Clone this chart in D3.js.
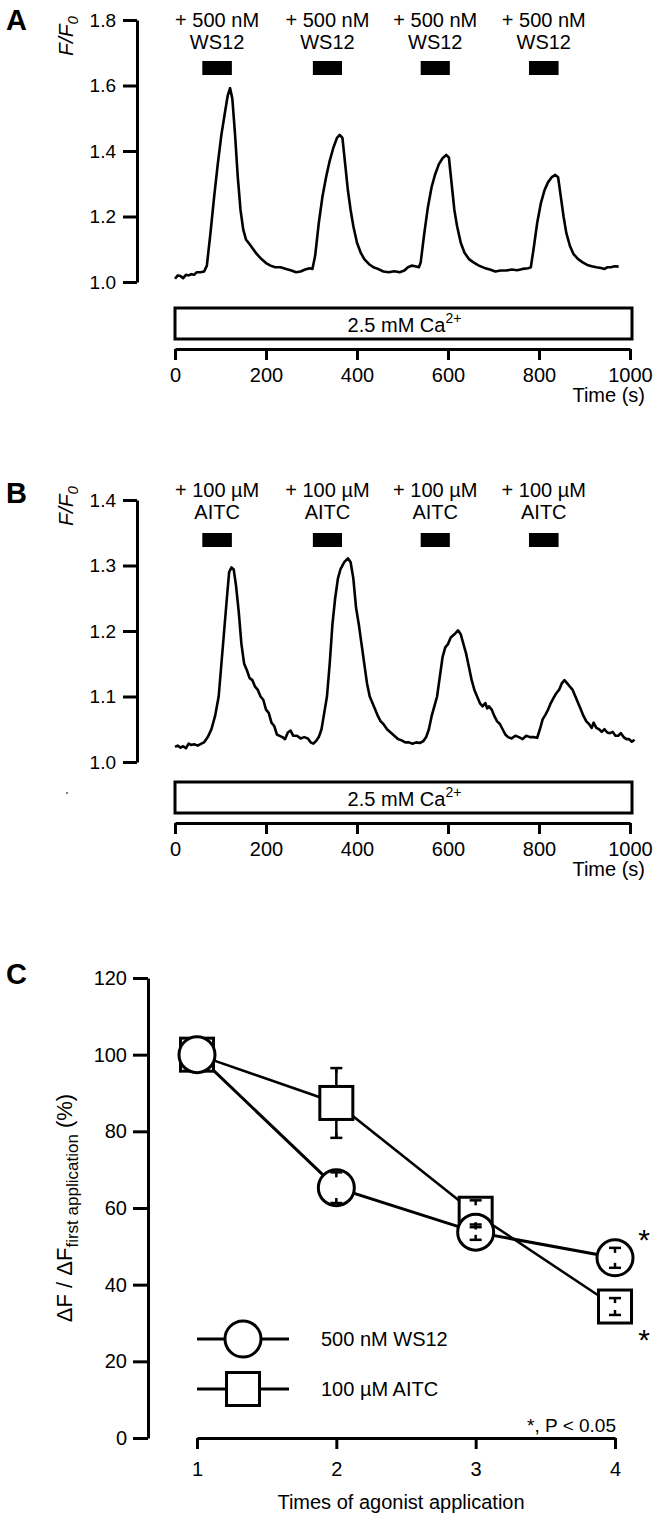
<!DOCTYPE html>
<html>
<head>
<meta charset="utf-8">
<script src="https://cdn.jsdelivr.net/npm/d3@7"></script>
<style>
  html, body { margin: 0; padding: 0; background: #fff; }
  svg { display: block; }
  text { font-family: "Liberation Sans", Arial, Helvetica, sans-serif; fill: #000; }
</style>
</head>
<body>
<script>
// ---------------- DATA ----------------
// Panel A: WS12 trace (time s, F/F0)
const timeA = [0,6,12,18,24,30,36,42,48,56,64,70,78,86,94,102,110,116,121,126,132,138,144,150,156,164,172,180,190,200,210,220,232,244,256,266,276,286,296,302,308,316,324,332,340,348,356,362,368,374,380,386,392,400,408,416,426,436,446,458,470,482,494,504,512,520,528,536,540,548,556,564,572,580,588,596,602,608,614,620,628,636,646,656,668,680,692,704,716,728,740,752,764,776,782,788,796,804,812,820,828,836,842,848,854,860,868,876,886,896,906,916,926,936,944,950,958,966,975];
const ratioA = [1.010,1.020,1.018,1.012,1.022,1.020,1.024,1.022,1.030,1.030,1.032,1.05,1.15,1.26,1.36,1.45,1.52,1.57,1.592,1.56,1.45,1.32,1.22,1.16,1.13,1.115,1.10,1.085,1.07,1.058,1.05,1.045,1.045,1.04,1.035,1.03,1.032,1.038,1.042,1.040,1.08,1.18,1.26,1.32,1.37,1.41,1.44,1.449,1.44,1.36,1.28,1.22,1.17,1.12,1.09,1.07,1.055,1.045,1.04,1.032,1.03,1.033,1.03,1.035,1.045,1.05,1.048,1.045,1.06,1.15,1.23,1.29,1.33,1.36,1.378,1.388,1.38,1.30,1.22,1.17,1.12,1.09,1.07,1.06,1.05,1.043,1.038,1.032,1.035,1.035,1.038,1.036,1.04,1.042,1.045,1.10,1.18,1.24,1.28,1.305,1.32,1.327,1.32,1.26,1.20,1.15,1.11,1.085,1.07,1.06,1.052,1.048,1.045,1.043,1.04,1.045,1.045,1.048,1.047];
const drugStartA = [60, 303, 540, 778];
const drugEndA = [125, 367, 604, 843];
const drugLine1A = "+ 500 nM";
const drugLine2A = "WS12";
const yTicksA = [1.0, 1.2, 1.4, 1.6, 1.8];

// Panel B: AITC trace
const timeB = [0,6,12,18,24,30,36,42,50,58,64,72,80,88,96,102,108,114,119,124,129,134,140,146,152,158,164,170,176,182,188,194,200,206,212,218,224,230,236,242,248,254,260,268,276,284,292,298,304,310,316,322,328,334,340,346,352,358,364,372,380,386,392,398,404,410,416,422,428,434,440,446,452,458,466,474,482,490,498,506,514,522,530,538,546,552,558,564,570,576,582,588,594,600,606,614,622,628,634,640,646,652,658,664,670,676,682,686,690,696,702,708,714,720,726,732,740,748,756,764,772,780,788,796,802,808,814,820,826,832,838,844,850,856,862,868,874,880,886,892,898,904,910,916,920,926,932,938,944,950,956,962,968,974,980,986,992,998,1004,1010];
const ratioB = [1.023,1.025,1.022,1.024,1.021,1.028,1.026,1.027,1.025,1.028,1.030,1.038,1.05,1.07,1.10,1.15,1.20,1.25,1.29,1.297,1.294,1.27,1.23,1.18,1.15,1.14,1.128,1.125,1.115,1.11,1.10,1.095,1.08,1.075,1.06,1.055,1.042,1.040,1.038,1.035,1.045,1.048,1.040,1.04,1.036,1.038,1.036,1.03,1.028,1.032,1.038,1.05,1.075,1.10,1.15,1.21,1.25,1.28,1.295,1.305,1.311,1.305,1.28,1.235,1.21,1.18,1.15,1.12,1.10,1.09,1.08,1.07,1.062,1.058,1.05,1.045,1.04,1.035,1.033,1.03,1.03,1.028,1.03,1.029,1.032,1.038,1.05,1.07,1.085,1.10,1.13,1.16,1.175,1.18,1.19,1.195,1.201,1.195,1.18,1.165,1.145,1.125,1.11,1.10,1.09,1.085,1.09,1.082,1.085,1.08,1.07,1.062,1.058,1.05,1.042,1.038,1.036,1.04,1.038,1.035,1.04,1.038,1.038,1.037,1.05,1.065,1.072,1.08,1.09,1.098,1.105,1.11,1.12,1.125,1.12,1.115,1.11,1.10,1.09,1.08,1.07,1.062,1.058,1.052,1.06,1.052,1.05,1.046,1.05,1.045,1.044,1.046,1.04,1.04,1.044,1.038,1.035,1.035,1.031,1.034];
const drugStartB = [60, 303, 540, 778];
const drugEndB = [125, 367, 604, 843];
const drugLine1B = "+ 100 µM";
const drugLine2B = "AITC";
const yTicksB = [1.0, 1.1, 1.2, 1.3, 1.4];

const timeTicks = [0, 200, 400, 600, 800, 1000];
const bathLabel = "2.5 mM Ca";
const bathSup = "2+";

// Panel C: normalised responses
const applications = [1, 2, 3, 4];
const ws12Mean = [100, 65.3, 53.7, 47.0];
const ws12Sem  = [0, 4.0, 2.0, 2.6];
const aitcMean = [100, 87.4, 58.5, 34.3];
const aitcSem  = [0, 9.1, 3.5, 2.2];
const yTicksC = [0, 20, 40, 60, 80, 100, 120];
const seriesNames = ["500 nM WS12", "100 µM AITC"];
const sigNote = "*, P < 0.05";

// ---------------- DRAWING ----------------
const W = 658, H = 1521;
const svg = d3.select("body").append("svg").attr("width", W).attr("height", H);
svg.append("rect").attr("width", W).attr("height", H).attr("fill", "#fff");

function styleAxis(g, fs) {
  g.selectAll("path.domain").attr("stroke", "#000").attr("stroke-width", 3);
  g.selectAll(".tick line").attr("stroke", "#000").attr("stroke-width", 3);
  g.selectAll(".tick text").attr("font-size", fs).attr("font-family", '"Liberation Sans", Arial, sans-serif').attr("fill", "#000");
}

function tracePanel(o) {
  const g = svg.append("g").attr("transform", `translate(0,${o.top})`);
  const x = d3.scaleLinear().domain([0, 1000]).range([175, 630]);
  const y = d3.scaleLinear().domain(o.yDomain).range([o.yBottom, o.yTop]);

  g.append("text").attr("x", 6).attr("y", o.letterY).attr("font-size", 29).attr("font-weight", "bold").text(o.letter);

  const yl = g.append("text").attr("transform", `translate(73,${o.yLabelY}) rotate(-90)`)
    .attr("text-anchor", "middle").attr("font-size", 21).attr("font-style", "italic");
  yl.append("tspan").text("F/F");
  yl.append("tspan").attr("font-size", 15).attr("dy", 5).text("0");

  const ya = g.append("g").attr("transform", "translate(137,0)")
    .call(d3.axisLeft(y).tickValues(o.yTicks).tickFormat(d3.format(".1f")).tickSize(14).tickSizeOuter(0).tickPadding(7));
  styleAxis(ya, 19);

  o.starts.forEach((s, i) => {
    const e = o.ends[i];
    g.append("rect").attr("x", x(s)).attr("y", o.barY).attr("width", x(e) - x(s)).attr("height", 14).attr("fill", "#000");
    const cx = (x(s) + x(e)) / 2;
    g.append("text").attr("x", cx).attr("y", 27).attr("text-anchor", "middle").attr("font-size", 20).text(o.l1);
    g.append("text").attr("x", cx).attr("y", 49).attr("text-anchor", "middle").attr("font-size", 20).text(o.l2);
  });

  const pts = o.t.map((t, i) => [t, o.v[i]]);
  g.append("path").datum(pts)
    .attr("d", d3.line().x(d => x(d[0])).y(d => y(d[1])).curve(d3.curveLinear))
    .attr("fill", "none").attr("stroke", "#000").attr("stroke-width", 2.6).attr("stroke-linejoin", "round");

  g.append("rect").attr("x", x(0)).attr("y", o.boxY).attr("width", x(1000) - x(0) + 2).attr("height", 31)
    .attr("fill", "#fff").attr("stroke", "#000").attr("stroke-width", 3);
  const bt = g.append("text").attr("x", (x(0) + x(1000)) / 2 + 2).attr("y", o.boxY + 24).attr("text-anchor", "middle").attr("font-size", 20);
  bt.append("tspan").text(bathLabel);
  bt.append("tspan").attr("font-size", 14).attr("dy", -9).text(bathSup);

  const xa = g.append("g").attr("transform", `translate(0,${o.axisY})`)
    .call(d3.axisBottom(x).tickValues(timeTicks).tickFormat(d3.format("d")).tickSize(11).tickSizeOuter(0).tickPadding(8));
  styleAxis(xa, 20);
  g.append("text").attr("x", 645).attr("y", o.axisY + 53).attr("text-anchor", "end").attr("font-size", 20).text("Time (s)");
}

tracePanel({ top: 0, letter: "A", letterY: 30, yLabelY: 36, yDomain: [1.0, 1.8], yTop: 20, yBottom: 282, yTicks: yTicksA,
  starts: drugStartA, ends: drugEndA, l1: drugLine1A, l2: drugLine2A, barY: 61, t: timeA, v: ratioA, boxY: 308, axisY: 349 });
tracePanel({ top: 470, letter: "B", letterY: 33, yLabelY: 36, yDomain: [1.0, 1.4], yTop: 30, yBottom: 292, yTicks: yTicksB,
  starts: drugStartB, ends: drugEndB, l1: drugLine1B, l2: drugLine2B, barY: 63, t: timeB, v: ratioB, boxY: 312, axisY: 353 });
svg.append("circle").attr("cx", 67).attr("cy", 793).attr("r", 1).attr("fill", "#555");

// ---------------- Panel C ----------------
(function () {
  const g = svg.append("g");
  const x = d3.scaleLinear().domain([1, 4]).range([197, 615]);
  const y = d3.scaleLinear().domain([0, 120]).range([1438, 978]);

  g.append("text").attr("x", 6).attr("y", 984).attr("font-size", 29).attr("font-weight", "bold").text("C");

  const ya = g.append("g").attr("transform", "translate(148,0)")
    .call(d3.axisLeft(y).tickValues(yTicksC).tickSize(15).tickSizeOuter(0).tickPadding(6));
  styleAxis(ya, 20);
  const xa = g.append("g").attr("transform", "translate(0,1438)")
    .call(d3.axisBottom(x).tickValues(applications).tickFormat(d3.format("d")).tickSize(11).tickSizeOuter(0).tickPadding(13));
  styleAxis(xa, 20);

  g.append("text").attr("x", 401).attr("y", 1509).attr("text-anchor", "middle").attr("font-size", 20).text("Times of agonist application");

  const yl = g.append("text").attr("transform", "translate(72,1208) rotate(-90)").attr("text-anchor", "middle").attr("font-size", 22);
  yl.append("tspan").text("ΔF / ΔF");
  yl.append("tspan").attr("font-size", 17).attr("dy", 6).text("first application");
  yl.append("tspan").attr("dy", -6).text(" (%)");

  const ws = applications.map((a, i) => ({ a, m: ws12Mean[i], s: ws12Sem[i] }));
  const ai = applications.map((a, i) => ({ a, m: aitcMean[i], s: aitcSem[i] }));
  const line = d3.line().x(d => x(d.a)).y(d => y(d.m));

  g.append("path").datum(ai).attr("d", line).attr("fill", "none").attr("stroke", "#000").attr("stroke-width", 2.5);
  g.append("path").datum(ws).attr("d", line).attr("fill", "none").attr("stroke", "#000").attr("stroke-width", 3);

  [ai, ws].forEach(ser => ser.filter(d => d.s > 0).forEach(d => {
    g.append("line").attr("x1", x(d.a)).attr("x2", x(d.a)).attr("y1", y(d.m - d.s)).attr("y2", y(d.m + d.s))
      .attr("stroke", "#000").attr("stroke-width", 2.5);
  }));

  const half = 16.5, r = 18;
  g.selectAll("rect.sq").data(ai).join("rect").attr("class", "sq")
    .attr("x", d => x(d.a) - half).attr("y", d => y(d.m) - half).attr("width", 2 * half).attr("height", 2 * half)
    .attr("fill", "#fff").attr("stroke", "#000").attr("stroke-width", 3);
  g.selectAll("circle.ci").data(ws).join("circle").attr("class", "ci")
    .attr("cx", d => x(d.a)).attr("cy", d => y(d.m)).attr("r", r)
    .attr("fill", "#fff").attr("stroke", "#000").attr("stroke-width", 3);

  [ai, ws].forEach(ser => ser.filter(d => d.s > 0).forEach(d => {
    [1, -1].forEach(sg => {
      const yc = y(d.m + sg * d.s);
      g.append("line").attr("x1", x(d.a) - 6).attr("x2", x(d.a) + 6).attr("y1", yc).attr("y2", yc)
        .attr("stroke", "#000").attr("stroke-width", 2.5);
      const stub = Math.min(5, Math.abs(y(d.m) - yc));
      g.append("line").attr("x1", x(d.a)).attr("x2", x(d.a)).attr("y1", yc).attr("y2", yc + sg * stub)
        .attr("stroke", "#000").attr("stroke-width", 2.5);
    });
  }));

  // significance stars
  g.append("text").attr("x", 644).attr("y", y(ws12Mean[3]) - 8).attr("text-anchor", "middle").attr("font-size", 30).text("*");
  g.append("text").attr("x", 644).attr("y", y(aitcMean[3]) + 43).attr("text-anchor", "middle").attr("font-size", 30).text("*");

  const legY = [1339, 1389];
  legY.forEach((ly, i) => {
    g.append("line").attr("x1", 197).attr("x2", 289).attr("y1", ly).attr("y2", ly).attr("stroke", "#000").attr("stroke-width", 3);
    if (i === 0) {
      g.append("circle").attr("cx", 243).attr("cy", ly).attr("r", r).attr("fill", "#fff").attr("stroke", "#000").attr("stroke-width", 3);
    } else {
      g.append("rect").attr("x", 243 - half).attr("y", ly - half).attr("width", 2 * half).attr("height", 2 * half)
        .attr("fill", "#fff").attr("stroke", "#000").attr("stroke-width", 3);
    }
    g.append("text").attr("x", 321).attr("y", ly + 7).attr("font-size", 20).text(seriesNames[i]);
  });

  g.append("text").attr("x", 616).attr("y", 1432).attr("text-anchor", "end").attr("font-size", 19).text(sigNote);
})();
</script>
</body>
</html>
